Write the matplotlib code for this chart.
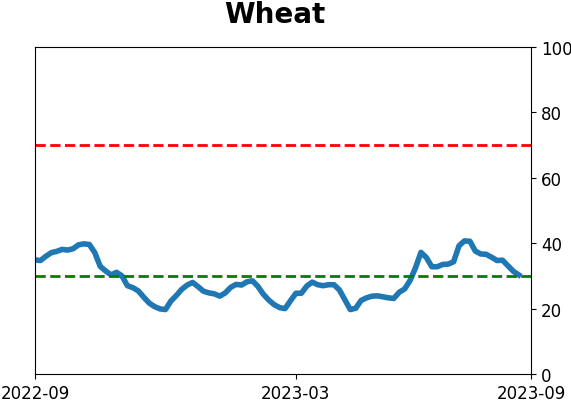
import pandas as pd
import matplotlib
matplotlib.use('Agg')
from matplotlib import pyplot as plt

# readings every 4 days from 2022-09-01
start_date = '2022-09-01'
step = '4D'
values = [34.9, 34.7, 36.0, 37.1, 37.5, 38.1, 37.9, 38.3, 39.5, 39.8,
          39.6, 37.1, 32.9, 31.5, 30.3, 31.1, 30.0, 27.0, 26.4, 25.4,
          23.5, 21.7, 20.6, 19.9, 19.7, 22.3, 24.0, 25.9, 27.2, 28.0,
          26.7, 25.3, 24.8, 24.5, 23.8, 24.8, 26.5, 27.4, 27.2, 28.2,
          28.5, 26.8, 24.4, 22.6, 21.2, 20.3, 20.0, 22.4, 24.7, 24.7,
          26.9, 28.1, 27.3, 27.0, 27.3, 27.3, 25.7, 22.7, 19.7, 20.1,
          22.5, 23.3, 23.8, 23.9, 23.6, 23.3, 23.1, 25.0, 26.0, 28.6,
          32.5, 37.2, 35.6, 32.8, 32.8, 33.5, 33.6, 34.3, 39.2, 40.7,
          40.6, 37.6, 36.7, 36.6, 35.7, 34.7, 34.8, 33.1, 31.4, 30.3]
upper_level = 70
lower_level = 30
tick_dates = ['2022-09-01', '2023-03-12', '2023-09-01']
tick_labels = ['2022-09', '2023-03', '2023-09']

dates = pd.date_range(start_date, periods=len(values), freq=step)

fig = plt.figure(figsize=(5.71, 4.02), dpi=100)
ax = fig.add_axes([0.0613, 0.0672, 0.8687, 0.8134])
ax.plot(dates, values, color='#1f77b4', linewidth=4)
ax.axhline(upper_level, color='red', linestyle='--', linewidth=2)
ax.axhline(lower_level, color='green', linestyle='--', linewidth=2)

ax.set_ylim(0, 100)
ax.set_xlim(pd.Timestamp(tick_dates[0]), pd.Timestamp(tick_dates[-1]))
ax.set_xticks(pd.to_datetime(tick_dates))
ax.set_xticklabels(tick_labels)
ax.yaxis.tick_right()
ax.tick_params(labelsize=12)
ax.set_title('Wheat', fontsize=20, fontweight='bold', pad=18, x=0.484)

fig.savefig('out.png', dpi=100)
